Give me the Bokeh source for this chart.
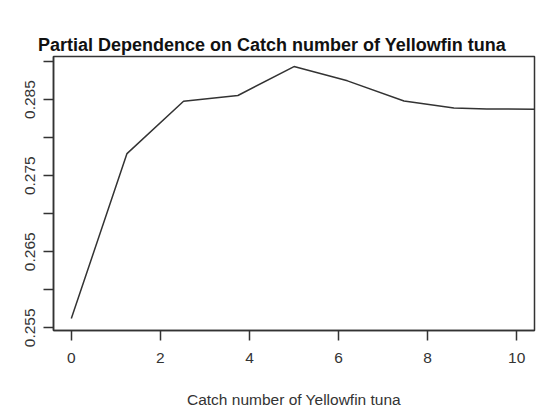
from bokeh.plotting import figure
from bokeh.models import Range1d, FixedTicker, LinearAxis
from bokeh.embed import file_html
from bokeh.resources import INLINE

# Data
catch_number = [0.0, 1.25, 2.52, 3.74, 5.0, 6.2, 7.47, 8.59, 9.33, 11.0]
partial_dep = [0.25622, 0.27790, 0.28478, 0.28553, 0.28934, 0.28746, 0.28482, 0.28389, 0.28376, 0.28372]

x_ticks = [0, 2, 4, 6, 8, 10]
y_ticks = [0.255, 0.26, 0.265, 0.27, 0.275, 0.28, 0.285, 0.29]
y_labels = {0.255: "0.255", 0.265: "0.265", 0.275: "0.275", 0.285: "0.285",
            0.26: "", 0.27: "", 0.28: "", 0.29: ""}

title_text = "Partial Dependence on Catch number of Yellowfin tuna"
x_title = "Catch number of Yellowfin tuna"

FONT = "Liberation Sans"
INK = "#333333"

p = figure(width=555, height=414, output_backend="svg", toolbar_location=None,
           x_range=Range1d(-0.4, 10.4), y_range=Range1d(0.25465, 0.29066),
           min_border_left=53, min_border_right=21, min_border_top=56, min_border_bottom=84)

xax = p.below[0]
yax = p.left[0]

p.title.text = title_text
p.title.text_font = FONT
p.title.text_font_size = "18px"
p.title.text_font_style = "bold"
p.title.text_color = "#111111"
p.title.align = "left"
p.title.offset = -15.5
p.title.standoff = 0
p.title.vertical_align = "top"

p.grid.visible = False
p.background_fill_color = "white"
p.border_fill_color = "white"
p.outline_line_color = INK
p.outline_line_width = 1.5
p.outline_line_alpha = 1.0

for ax in (xax, yax):
    ax.axis_line_color = INK
    ax.axis_line_width = 1.5
    ax.major_tick_line_color = INK
    ax.major_tick_line_width = 1.5
    ax.major_tick_out = 10
    ax.major_tick_in = 0
    ax.minor_tick_line_color = None
    ax.major_label_text_font = FONT
    ax.major_label_text_font_size = "15.5px"
    ax.major_label_text_color = INK

xax.ticker = FixedTicker(ticks=x_ticks)
xax.major_label_standoff = 12
xax.axis_label = x_title
xax.axis_label_text_font = FONT
xax.axis_label_text_font_size = "15.5px"
xax.axis_label_text_font_style = "normal"
xax.axis_label_text_color = INK
xax.axis_label_standoff = 25

yax.ticker = FixedTicker(ticks=y_ticks)
yax.major_label_overrides = y_labels
yax.major_label_orientation = "vertical"
yax.major_label_standoff = 8

# invisible spacer axis above the frame (no ticks), pushes the title upwards
spacer = LinearAxis(ticker=FixedTicker(ticks=[]), axis_line_color=None,
                    major_tick_line_color="white", minor_tick_line_color=None,
                    major_tick_out=26, major_tick_in=0, minor_tick_out=0,
                    major_label_standoff=0, major_label_text_font_size="1px",
                    major_label_text_color="white")
p.add_layout(spacer, "above")

p.line(catch_number, partial_dep, line_color=INK, line_width=1.5)

open("out.html", "w").write(file_html(p, INLINE))
